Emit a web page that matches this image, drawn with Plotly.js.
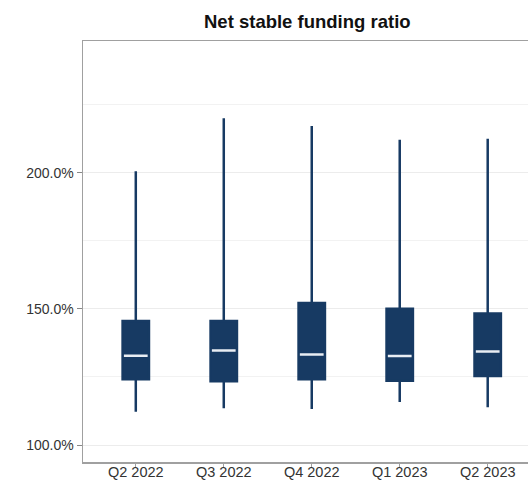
<!DOCTYPE html>
<html>
<head>
<meta charset="utf-8">
<script src="https://cdn.plot.ly/plotly-3.0.1.min.js"></script>
<style>html,body{margin:0;padding:0;background:#fff;}#chart{width:528px;height:481px;}</style>
</head>
<body>
<div id="chart"></div>
<script>
var quarters = ["Q2 2022", "Q3 2022", "Q4 2022", "Q1 2023", "Q2 2023"];
var whiskerLow  = [1.122, 1.135, 1.132, 1.158, 1.139];
var quartile1   = [1.242, 1.234, 1.242, 1.236, 1.254];
var medians     = [1.328, 1.347, 1.333, 1.327, 1.344];
var quartile3   = [1.456, 1.456, 1.522, 1.501, 1.483];
var whiskerHigh = [2.006, 2.201, 2.173, 2.122, 2.126];

var navy = "#173a63";

var boxes = {
  type: "box",
  x: quarters,
  q1: quartile1,
  median: medians,
  q3: quartile3,
  lowerfence: whiskerLow,
  upperfence: whiskerHigh,
  boxpoints: false,
  width: 0.3,
  whiskerwidth: 0,
  line: {color: navy, width: 2.5},
  fillcolor: navy,
  hoverinfo: "skip",
  showlegend: false
};

var medianLines = {
  type: "box",
  x: quarters,
  q1: medians,
  median: medians,
  q3: medians,
  lowerfence: medians,
  upperfence: medians,
  boxpoints: false,
  width: 0.27,
  whiskerwidth: 0,
  line: {color: "#e9edf3", width: 2.5},
  fillcolor: "rgba(0,0,0,0)",
  hoverinfo: "skip",
  showlegend: false
};

var layout = {
  width: 528,
  height: 481,
  margin: {l: 83, r: 0, t: 41, b: 19, pad: 0},
  paper_bgcolor: "#ffffff",
  plot_bgcolor: "#ffffff",
  boxmode: "overlay",
  showlegend: false,
  title: {
    text: "<b>Net stable funding ratio</b>",
    font: {family: "Liberation Sans, Arial, sans-serif", size: 18.5, color: "#111111"},
    x: 0.582, xanchor: "center",
    y: 0.955, yanchor: "middle"
  },
  font: {family: "Liberation Sans, Arial, sans-serif", size: 14, color: "#333333"},
  xaxis: {
    type: "category",
    range: [-0.6, 4.458],
    showline: true,
    linecolor: "#a0a0a0",
    linewidth: 1.5,
    mirror: true,
    ticks: "outside",
    ticklen: 4,
    tickwidth: 1,
    tickcolor: "#a0a0a0",
    ticklabelstandoff: -8,
    showgrid: false,
    tickfont: {size: 14.5, color: "#333333"},
    automargin: false,
    fixedrange: true
  },
  yaxis: {
    range: [0.9375, 2.485],
    dtick: 0.5,
    tick0: 0,
    tickformat: ".1%",
    showline: true,
    linecolor: "#a0a0a0",
    linewidth: 1.5,
    ticks: "outside",
    ticklen: 5,
    tickwidth: 1,
    tickcolor: "#888888",
    showgrid: true,
    gridcolor: "#ececec",
    gridwidth: 1,
    zeroline: false,
    minor: {dtick: 0.25, tick0: 0, showgrid: true, gridcolor: "#f2f2f2", gridwidth: 1, ticklen: 0},
    tickfont: {size: 14, color: "#333333"},
    automargin: false,
    fixedrange: true
  }
};

Plotly.newPlot("chart", [boxes, medianLines], layout, {displayModeBar: false, staticPlot: true});
</script>
</body>
</html>
